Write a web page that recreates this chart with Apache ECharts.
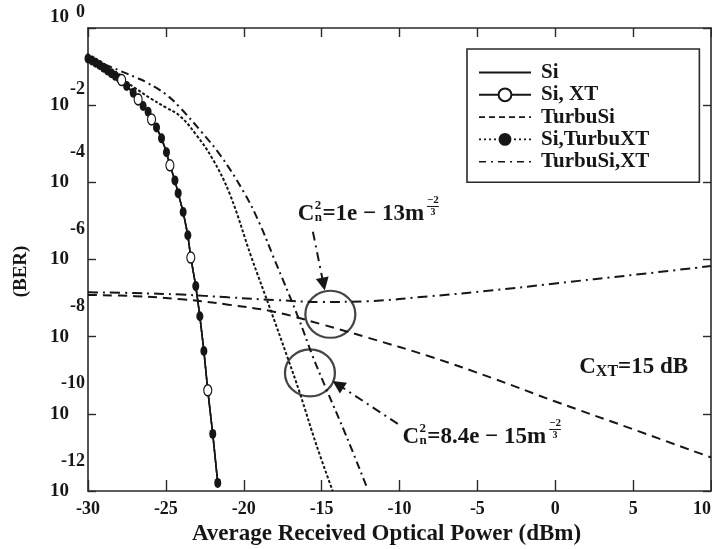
<!DOCTYPE html>
<html>
<head>
<meta charset="utf-8">
<script src="https://cdn.jsdelivr.net/npm/echarts@6/dist/echarts.min.js"></script>
<style>
  html, body { margin: 0; padding: 0; background: #fff; }
  #chart { width: 712px; height: 549px; }
</style>
</head>
<body>
<div id="chart"></div>
<script>
// Average received optical power (dBm) on x, log10(BER) on y.
const powerTicks = [-30, -25, -20, -15, -10, -5, 0, 5, 10];
const berExponents = [-12, -10, -8, -6, -4, -2, 0];

// Silicon receiver curve (shared by Si, Si+XT and Si+turbulent XT)
const siCurve = [
  [-30, -0.79], [-29.75, -0.84], [-29.5, -0.90], [-29.25, -0.96], [-29, -1.03],
  [-28.75, -1.10], [-28.5, -1.17], [-28.25, -1.24], [-28, -1.30], [-27.84, -1.35],
  [-27.52, -1.50], [-27.10, -1.68], [-26.78, -1.85], [-26.46, -2.02], [-26.14, -2.17],
  [-25.92, -2.37], [-25.60, -2.58], [-25.28, -2.86], [-24.96, -3.22], [-24.74, -3.56],
  [-24.42, -3.95], [-24.21, -4.28], [-23.89, -4.77], [-23.59, -5.37], [-23.40, -5.95],
  [-23.08, -6.69], [-22.82, -7.47], [-22.56, -8.37], [-22.31, -9.39], [-21.99, -10.52],
  [-21.67, -11.79]
];
// powers where the open (Si, XT) markers sit
const siXtMarkers = [-27.84, -26.78, -25.92, -24.74, -23.40, -22.31];
// powers where the filled (Si, TurbuXT) markers sit
const siTurbuXtMarkers = [
  -30, -29.75, -29.5, -29.25, -29, -28.75, -28.5, -28.25, -28, -27.52, -27.10,
  -26.46, -26.14, -25.60, -25.28, -24.96, -24.42, -24.21, -23.89, -23.59,
  -23.08, -22.82, -22.56, -21.99, -21.67
];

const turbuSiSteep = [
  [-30, -0.76], [-29, -1.02], [-28, -1.28], [-27, -1.55], [-26, -1.82], [-25, -2.06],
  [-24.1, -2.28], [-23.03, -2.78], [-21.99, -3.40], [-20.9, -4.30], [-19.51, -5.94],
  [-18.33, -7.25], [-17.18, -8.55], [-16.41, -9.45], [-15.34, -10.80], [-14.29, -12.0]
];
const turbuSiFloor = [
  [-30, -6.92], [-27, -6.95], [-24, -7.03], [-21, -7.17], [-18, -7.36], [-15, -7.68],
  [-12, -8.03], [-8, -8.52], [-4, -9.08], [0, -9.68], [5, -10.40], [10, -11.13]
];
const turbuSiXtSteep = [
  [-30, -0.76], [-29, -0.93], [-28, -1.10], [-27, -1.27], [-26.24, -1.41], [-25, -1.72],
  [-24.1, -2.06], [-22.7, -2.70], [-21.5, -3.30], [-20, -4.25], [-19, -5.05],
  [-18.08, -5.95], [-16.54, -7.46], [-15.58, -8.50], [-14.70, -9.36], [-13.42, -10.57],
  [-12.05, -11.95]
];
const turbuSiXtFloor = [
  [-30, -6.85], [-27, -6.87], [-24, -6.91], [-21, -6.98], [-18, -7.05], [-15, -7.10],
  [-12, -7.08], [-8, -6.95], [-4, -6.80], [0, -6.62], [5, -6.40], [10, -6.17]
];

// highlighted regions and the arrows pointing at them
const ringCenters = [[-14.44, -7.42], [-15.75, -8.94]];
const arrowPaths = [
  [[-15.56, -5.28], [-14.88, -6.64]],
  [[-10.11, -10.26], [-13.95, -9.24]]
];
// left / vertical-centre anchors of the three annotation texts
const upperNoteAnchor = [-16.54, -4.82];
const lowerNoteAnchor = [-9.81, -10.60];
const xtNoteAnchor = [1.54, -8.79];

const fontFamily = '"Liberation Serif", "Times New Roman", Times, serif';
const ink = '#161616';
const boldText = (size) => ({ fontFamily, fontWeight: 'bold', fontSize: size, color: ink });

const withMarkers = (xs, sym) => siCurve.map(([x, y]) => ({
  value: [x, y], symbol: xs.includes(x) ? sym : 'none'
}));

const xMin = powerTicks[0], xMax = powerTicks[powerTicks.length - 1];
const yMin = Math.min(...berExponents), yMax = Math.max(...berExponents);

const frameAxis = {
  axisLine: { show: true, onZero: false, lineStyle: { color: '#2a2a2a', width: 1.6 } },
  splitLine: { show: false }
};
const hiddenSymbol = { opacity: 0 };

const chart = echarts.init(document.getElementById('chart'), null, { renderer: 'canvas' });

const option = {
  animation: false,
  backgroundColor: '#fff',
  grid: { left: 88, right: 1, top: 28, bottom: 58, containLabel: false, outerBoundsMode: 'none' },
  legend: {
    data: [
      { name: 'Si', itemStyle: hiddenSymbol },
      { name: 'Si, XT' },
      { name: 'TurbuSi', itemStyle: hiddenSymbol, lineStyle: { type: [6, 4], width: 1.6 } },
      { name: 'Si,TurbuXT', lineStyle: { type: [2, 3], width: 1.6 } },
      { name: 'TurbuSi,XT', itemStyle: hiddenSymbol, lineStyle: { type: [7, 5, 2, 5], width: 1.6 } }
    ],
    orient: 'vertical',
    left: 467, top: 49,
    itemWidth: 52, itemHeight: 16, itemGap: 1.3,
    padding: [13, 50, 10, 11],
    borderColor: '#2a2a2a', borderWidth: 1.6, borderRadius: 0,
    backgroundColor: '#fff',
    selectedMode: false,
    textStyle: Object.assign(boldText(21), { lineHeight: 19, padding: [0, 0, 0, 5] })
  },
  xAxis: [
    Object.assign({}, frameAxis, {
      type: 'value', position: 'bottom', min: xMin, max: xMax, interval: 5,
      axisTick: { show: true, inside: true, length: 11, lineStyle: { color: '#2a2a2a', width: 1.4 } },
      axisLabel: Object.assign(boldText(18), { margin: 9, alignMaxLabel: 'right' }),
      name: 'Average Received Optical Power (dBm)',
      nameLocation: 'middle', nameGap: 32,
      nameTextStyle: Object.assign(boldText(23), { padding: [0, 26, 0, 0] })
    }),
    Object.assign({}, frameAxis, {
      type: 'value', position: 'top', min: xMin, max: xMax, interval: 5,
      axisTick: { show: true, inside: true, length: 9, lineStyle: { color: '#2a2a2a', width: 1.4 } },
      axisLabel: { show: false }
    })
  ],
  yAxis: [
    Object.assign({}, frameAxis, {
      type: 'value', position: 'left', min: yMin, max: yMax, interval: 2,
      axisTick: { show: true, inside: true, length: 8, lineStyle: { color: '#2a2a2a', width: 1.4 } },
      axisLabel: {
        margin: 19,
        formatter: (v) => (v === 0 ? '{up|10}' : '{n|10}'),
        rich: {
          n: boldText(19),
          up: Object.assign(boldText(19), { padding: [0, 0, 22, 0] })
        }
      },
      name: '(BER)', nameLocation: 'middle', nameGap: 57, nameRotate: 90,
      nameTextStyle: Object.assign(boldText(19), { padding: [0, 24, 0, 0] })
    }),
    {
      type: 'value', position: 'left', min: yMin, max: yMax, interval: 2,
      axisLine: { show: false, onZero: false }, axisTick: { show: false }, splitLine: { show: false },
      axisLabel: {
        margin: 3,
        formatter: (v) => (v >= -2 ? `{hi|${v}}` : `{lo|${v}}`),
        rich: {
          hi: Object.assign(boldText(18), { padding: [0, 0, 32, 0] }),
          lo: Object.assign(boldText(18), { padding: [0, 0, 60, 0] })
        }
      }
    },
    Object.assign({}, frameAxis, {
      type: 'value', position: 'right', min: yMin, max: yMax, interval: 2,
      axisTick: { show: true, inside: true, length: 8, lineStyle: { color: '#2a2a2a', width: 1.4 } },
      axisLabel: { show: false }
    })
  ],
  series: [
    {
      name: 'Si', type: 'line', data: siCurve, symbol: 'none', silent: true, z: 3,
      itemStyle: { color: ink },
      lineStyle: { color: ink, width: 1.6, type: 'solid' }
    },
    {
      name: 'Si, XT', type: 'line', data: withMarkers(siXtMarkers, 'circle'),
      symbol: 'circle', symbolSize: [8, 11], showSymbol: true, showAllSymbol: true, silent: true, z: 5,
      itemStyle: { color: '#fff', borderColor: ink, borderWidth: 1.3 },
      lineStyle: { color: ink, width: 1.6, type: 'solid' }
    },
    {
      name: 'TurbuSi', type: 'line', data: turbuSiSteep, symbol: 'none', smooth: 0.4, silent: true, z: 3,
      itemStyle: { color: ink },
      lineStyle: { color: ink, width: 2, type: [3, 2] }
    },
    {
      name: 'Si,TurbuXT', type: 'line', data: withMarkers(siTurbuXtMarkers, 'circle'),
      symbol: 'circle', symbolSize: [7, 10], showSymbol: true, showAllSymbol: true, silent: true, z: 4,
      itemStyle: { color: ink, borderWidth: 0 },
      lineStyle: { color: ink, width: 1.5, type: [1.5, 2.5] }
    },
    {
      name: 'TurbuSi,XT', type: 'line', data: turbuSiXtSteep, symbol: 'none', smooth: 0.4, silent: true, z: 3,
      itemStyle: { color: ink },
      lineStyle: { color: ink, width: 2, type: [8, 4, 2, 4] }
    },
    {
      name: 'TurbuSi', type: 'line', data: turbuSiFloor, symbol: 'none', smooth: 0.4, silent: true, z: 3,
      itemStyle: { color: ink },
      lineStyle: { color: ink, width: 2, type: [9, 6] }
    },
    {
      name: 'TurbuSi,XT', type: 'line', data: turbuSiXtFloor, symbol: 'none', smooth: 0.4, silent: true, z: 3,
      itemStyle: { color: ink },
      lineStyle: { color: ink, width: 2, type: [10, 5, 2, 5] }
    },
    {
      name: 'rings', type: 'scatter', data: ringCenters, silent: true, z: 6,
      symbol: 'circle', symbolSize: [50, 47],
      itemStyle: { color: 'rgba(0,0,0,0)', borderColor: ink, borderWidth: 2.2 },
      markLine: {
        silent: true, animation: false,
        symbol: ['none', 'triangle'], symbolSize: [13, 13],
        label: { show: false },
        itemStyle: { color: ink },
        lineStyle: { color: ink, width: 2, type: [9, 5, 2, 5] },
        emphasis: { disabled: true },
        data: arrowPaths.map(([a, b]) => [{ coord: a }, { coord: b }])
      }
    }
  ]
};

chart.setOption(option);

// ---- annotation texts (formulas with sub/superscripts) ----
const measureCtx = document.createElement('canvas').getContext('2d');
function textWidth(str, size) {
  measureCtx.font = `bold ${size}px ${fontFamily}`;
  return measureCtx.measureText(str).width;
}
function txt(str, x, y, size, align) {
  const a = align || 'left';
  return {
    type: 'text', x: x, y: y, silent: true, z: 10,
    style: {
      text: str, font: `bold ${size}px ${fontFamily}`, fill: ink,
      align: a, verticalAlign: 'middle', textAlign: a, textVerticalAlign: 'middle'
    }
  };
}
function cn2Note(anchor, body) {
  const [px, py] = chart.convertToPixel({ gridIndex: 0 }, anchor);
  const big = 23, small = 13, frac = 11;
  const wC = textWidth('C', big);
  const wScript = Math.max(textWidth('n', small), textWidth('2', small));
  const xBody = px + wC + wScript + 1;
  const xFrac = xBody + textWidth(body, big) + 3;
  const wFrac = textWidth('\u22122', frac);
  return [
    txt('C', px, py, big),
    txt('2', px + wC + 0.5, py - 8, small),
    txt('n', px + wC + 0.5, py + 4, small),
    txt(body, xBody, py, big),
    txt('\u22122', xFrac, py - 14, frac),
    { type: 'line', silent: true, z: 10,
      shape: { x1: xFrac, y1: py - 7.5, x2: xFrac + wFrac, y2: py - 7.5 },
      style: { stroke: ink, lineWidth: 1 } },
    txt('3', xFrac + wFrac / 2, py - 2, frac - 1, 'center')
  ];
}
function xtNote(anchor) {
  const [px, py] = chart.convertToPixel({ gridIndex: 0 }, anchor);
  const big = 23, sub = 16;
  const wC = textWidth('C', big);
  const wSub = textWidth('XT', sub);
  return [
    txt('C', px, py, big),
    txt('XT', px + wC, py + 5, sub),
    txt('=15 dB', px + wC + wSub, py, big)
  ];
}

chart.setOption({
  graphic: [].concat(
    cn2Note(upperNoteAnchor, '=1e \u2212 13m'),
    cn2Note(lowerNoteAnchor, '=8.4e \u2212 15m'),
    xtNote(xtNoteAnchor)
  )
});
</script>
</body>
</html>
